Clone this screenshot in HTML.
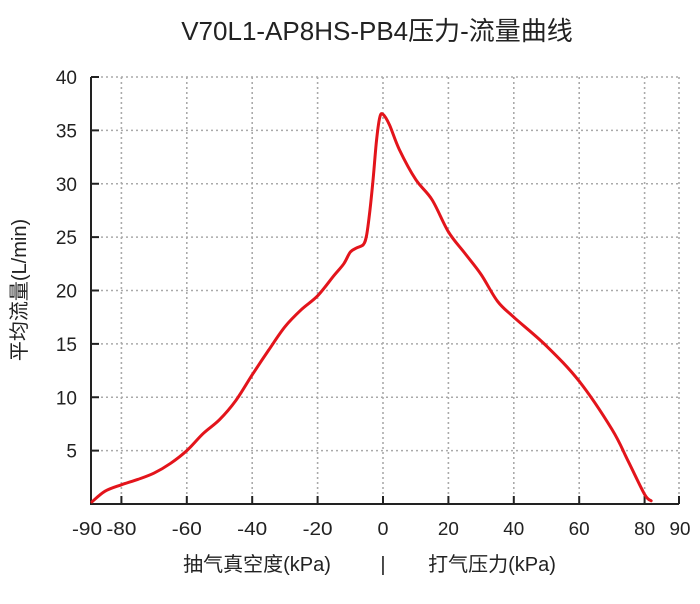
<!DOCTYPE html>
<html><head><meta charset="utf-8"><style>
body{margin:0;background:#fff;}
svg text{font-family:"Liberation Sans","Noto Sans CJK SC",sans-serif;fill:#222;}
</style></head><body>
<svg width="700" height="599">
<text x="377" y="40" text-anchor="middle" font-size="26">V70L1-AP8HS-PB4压力-流量曲线</text>
<g id="grid"></g>
<g id="axes"></g>
<path id="curve" fill="none" stroke="#e3141b" stroke-width="3" stroke-linejoin="round" stroke-linecap="round"/>
<text transform="translate(26,290) rotate(-90)" text-anchor="middle" font-size="20">平均流量(L/min)</text>
<text x="257" y="571" text-anchor="middle" font-size="20">抽气真空度(kPa)</text>
<text x="383" y="571" text-anchor="middle" font-size="20">|</text>
<text x="492" y="571" text-anchor="middle" font-size="20">打气压力(kPa)</text>
</svg>
<script>
const xTicks=[-90,-80,-60,-40,-20,0,20,40,60,80,90];
const yTicks=[5,10,15,20,25,30,35,40];
const pressure=[-89,-85,-80,-75,-70,-65,-60,-55,-50,-45,-40,-35,-30,-25,-20,-15,-12,-10,-8,-6,-5,-4,-3,-2,-1,0,2,5,10,15,20,25,30,35,40,50,60,70,75,80,82];
const flow=[0.2,1.2,1.8,2.3,2.9,3.8,5,6.6,7.9,9.7,12.1,14.4,16.6,18.2,19.5,21.4,22.5,23.6,24,24.3,25.2,27.5,30.5,34,36.2,36.5,35.5,33.2,30.4,28.5,25.5,23.5,21.5,19,17.5,14.8,11.5,7,4,0.9,0.3];
const ns="http://www.w3.org/2000/svg";
const X=v=>383+v*3.27, Y=v=>504-v*10.675;
const grid=document.getElementById('grid'), axes=document.getElementById('axes');
function mk(tag,attrs,parent){const e=document.createElementNS(ns,tag);for(const k in attrs)e.setAttribute(k,attrs[k]);parent.appendChild(e);return e;}
const L=91,R=679;
xTicks.forEach(t=>{
  const x=t===-90?L:(t===90?R:X(t));
  if(t>-90){const g=mk('line',{x1:x,x2:x,y1:Y(40),y2:Y(0),stroke:'#aaa','stroke-width':1.6,'stroke-dasharray':'2 3'},grid);
  }
  const tk=mk('line',{x1:x,x2:x,y1:Y(0),y2:Y(0)-8,stroke:'#222','stroke-width':2},axes);
  
  const lx=t===-90?87:(t===90?680:X(t));
  const tx=mk('text',{x:lx,y:535,'text-anchor':'middle','font-size':18,'textLength':t<0?30:(t===0?11:21),'lengthAdjust':'spacingAndGlyphs'},axes);tx.textContent=t;
  
});
yTicks.forEach(t=>{
  const y=Y(t);
  const g=mk('line',{x1:L,x2:R,y1:y,y2:y,stroke:'#aaa','stroke-width':1.6,'stroke-dasharray':'2 3'},grid);
  
  const tk=mk('line',{x1:L,x2:L+8,y1:y,y2:y,stroke:'#222','stroke-width':2},axes);
  
  const tx=mk('text',{x:77,y:y+7,'text-anchor':'end','font-size':19},axes);tx.textContent=t;
  
});
const ax=mk('path',{d:`M${L},${Y(40)}V${Y(0)}H${R}`,fill:'none',stroke:'#222','stroke-width':2},axes);

const pts=pressure.map((p,i)=>[X(p),Y(flow[i])]);
let d=`M${pts[0][0]},${pts[0][1]}`;
for(let i=0;i<pts.length-1;i++){
  const p0=pts[Math.max(0,i-1)],p1=pts[i],p2=pts[i+1],p3=pts[Math.min(pts.length-1,i+2)];
  const c1=[p1[0]+(p2[0]-p0[0])/6,p1[1]+(p2[1]-p0[1])/6],c2=[p2[0]-(p3[0]-p1[0])/6,p2[1]-(p3[1]-p1[1])/6];
  d+=`C${c1[0]},${c1[1]} ${c2[0]},${c2[1]} ${p2[0]},${p2[1]}`;
}
document.getElementById('curve').setAttribute('d',d);
</script>
</body></html>
